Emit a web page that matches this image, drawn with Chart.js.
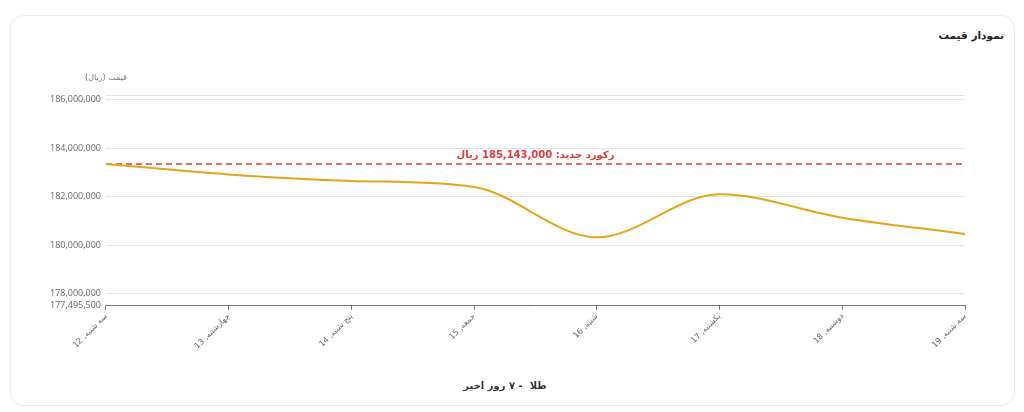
<!DOCTYPE html>
<html lang="fa">
<head>
<meta charset="utf-8">
<script src="https://cdn.jsdelivr.net/npm/chart.js@4/dist/chart.umd.min.js"></script>
<style>
  html, body { margin: 0; padding: 0; background: #fff; }
  body { width: 1024px; height: 412px; position: relative; overflow: hidden; font-family: "DejaVu Sans", sans-serif; }
  .card {
    position: absolute; left: 10px; top: 15px; width: 1003px; height: 389px;
    border: 1px solid #ececec; border-radius: 14px; background: #fff;
    box-shadow: 0 0 3px rgba(0,0,0,0.04);
  }
  .card h3 {
    position: absolute; right: 10px; top: 13px; margin: 0;
    font-size: 10.5px; font-weight: bold; color: #222; direction: rtl;
  }
  .chart-box { position: absolute; left: 20px; top: 45px; width: 965px; height: 344px; }
</style>
</head>
<body>
<div class="card">
  <h3>نمودار قیمت</h3>
  <div class="chart-box"><canvas id="price-chart" dir="rtl"></canvas></div>
</div>
<script>
// chart data
const dayLabels = ['سه شنبه, 12', 'چهارشنبه, 13', 'پنج شنبه, 14', 'جمعه, 15', 'شنبه, 16', 'یکشنبه, 17', 'دوشنبه, 18', 'سه شنبه, 19'];
const goldPrices = [183350000, 182920000, 182650000, 182400000, 180320000, 182100000, 181130000, 180460000];
const recordLine = [183350000, 183350000, 183350000, 183350000, 183350000, 183350000, 183350000, 183350000];
const yTicks = [177495500, 178000000, 180000000, 182000000, 184000000, 186000000, 186200000];
const yMin = 177495500;
const yMax = 186200000;

const recordText = 'رکورد جدید: 185,143,000 ریال';
const yUnitText = 'قیمت (ریال)';
// right-to-left override so the dash stays between the words
const seriesTitle = '\u202Eطلا  - ۷ روز اخیر\u202C';

// draws the unit caption above the y axis and the record caption above the dashed line
const captionsPlugin = {
    id: 'captions',
    afterDraw(chart) {
        const ctx = chart.ctx;
        const area = chart.chartArea;
        const y = chart.scales.y;
        ctx.save();
        ctx.direction = 'rtl';
        ctx.textAlign = 'center';
        ctx.textBaseline = 'middle';
        ctx.fillStyle = '#777';
        ctx.font = '8px "DejaVu Sans", sans-serif';
        ctx.fillText(yUnitText, area.left, area.top - 17);

        ctx.fillStyle = '#e53935';
        ctx.font = 'bold 10px "DejaVu Sans", sans-serif';
        ctx.fillText(recordText, (area.left + area.right) / 2, y.getPixelForValue(recordLine[0]) - 9);
        ctx.restore();
    }
};

const ctx = document.getElementById('price-chart').getContext('2d');
const priceChart = new Chart(ctx, {
    type: 'line',
    data: {
        labels: dayLabels,
        datasets: [{
            label: seriesTitle,
            data: goldPrices,
            borderColor: '#e6a419',
            backgroundColor: '#e6a419',
            borderWidth: 2,
            pointRadius: 0,
            cubicInterpolationMode: 'monotone',
            fill: false,
        },
        {
            label: 'record',
            data: recordLine,
            borderColor: '#e53935',
            borderWidth: 1.5,
            borderDash: [6, 4],
            pointRadius: 0,
            tension: 0,
            fill: false,
        }]
    },
    options: {
        responsive: true,
        maintainAspectRatio: false,
        animation: false,
        layout: { padding: { left: 14, right: 31, top: 34, bottom: 0 } },
        plugins: {
            legend: { display: false },
            tooltip: { enabled: false },
            title: {
                display: true,
                position: 'bottom',
                text: seriesTitle,
                color: '#333',
                font: { size: 10, weight: 'bold', family: '"DejaVu Sans", sans-serif' },
                padding: { top: 27, bottom: 13 }
            }
        },
        scales: {
            x: {
                offset: false,
                border: { display: true, color: '#777' },
                grid: { drawOnChartArea: false, drawTicks: true, tickLength: 4, color: '#777' },
                ticks: {
                    minRotation: 45,
                    maxRotation: 45,
                    autoSkip: false,
                    color: '#666',
                    padding: 2,
                    font: { size: 8, family: '"DejaVu Sans", sans-serif' }
                }
            },
            y: {
                min: yMin,
                max: yMax,
                border: { display: false },
                grid: { color: '#e6e6e6', drawTicks: false },
                afterBuildTicks: (scale) => {
                    scale.ticks = yTicks.map(v => ({ value: v }));
                },
                ticks: {
                    color: '#666',
                    padding: 5,
                    font: { size: 9, family: '"Open Sans", sans-serif' },
                    callback: (value) => value === yMax ? '' : value.toLocaleString('en-US')
                }
            }
        }
    },
    plugins: [captionsPlugin]
});
</script>
</body>
</html>
